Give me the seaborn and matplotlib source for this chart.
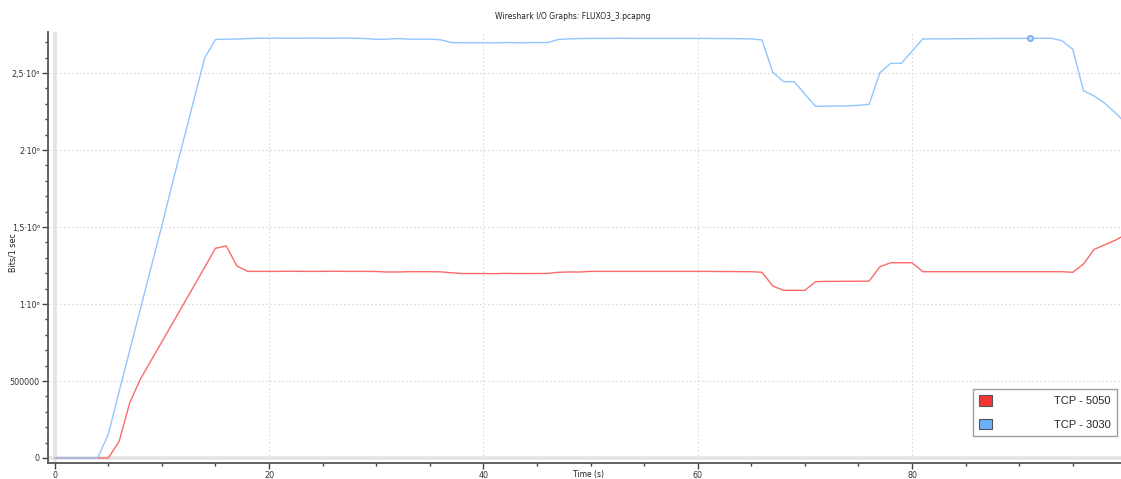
import numpy as np
import pandas as pd
import matplotlib
matplotlib.use("Agg")
import matplotlib.pyplot as plt
from matplotlib.patches import Patch
from matplotlib.ticker import MultipleLocator, FixedLocator, FixedFormatter
import seaborn as sns

# Data (1 s intervals)
seconds = list(range(0, 101))

tcp_3030 = [
    0, 0, 0, 0, 0, 154000, 430000, 700000, 970000, 1240000,
    1510000, 1790000, 2060000, 2330000, 2600000, 2718000, 2720000, 2721000, 2724000, 2726000,
    2726000, 2727000, 2726000, 2726000, 2727000, 2726000, 2726000, 2727000, 2726000, 2724000,
    2719000, 2720000, 2724000, 2720000, 2720000, 2720000, 2716000, 2698000, 2697000, 2697000,
    2697000, 2696000, 2698000, 2697000, 2697000, 2698000, 2698000, 2718000, 2722000, 2724000,
    2725000, 2725000, 2725000, 2726000, 2725000, 2725000, 2725000, 2725000, 2725000, 2725000,
    2725000, 2725000, 2724000, 2724000, 2723000, 2722000, 2715000, 2505000, 2444000, 2444000,
    2364000, 2284000, 2285000, 2286000, 2287000, 2290000, 2297000, 2502000, 2563000, 2563000,
    2642000, 2721000, 2722000, 2722000, 2723000, 2723000, 2724000, 2724000, 2725000, 2725000,
    2725000, 2725000, 2726000, 2726000, 2710000, 2654000, 2385000, 2351000, 2303000, 2240000,
    2170000,
]

tcp_5050 = [
    0, 0, 0, 0, 0, 0, 106000, 359000, 513000, 634000,
    755000, 876000, 997000, 1118000, 1240000, 1362000, 1377000, 1247000, 1212000, 1212000,
    1212000, 1212000, 1213000, 1212000, 1212000, 1212000, 1213000, 1212000, 1212000, 1212000,
    1211000, 1208000, 1208000, 1210000, 1210000, 1210000, 1209000, 1203000, 1198000, 1198000,
    1198000, 1197000, 1199000, 1198000, 1198000, 1198000, 1199000, 1206000, 1208000, 1208000,
    1212000, 1212000, 1212000, 1212000, 1212000, 1212000, 1212000, 1212000, 1212000, 1212000,
    1212000, 1212000, 1211000, 1211000, 1210000, 1210000, 1206000, 1117000, 1089000, 1089000,
    1089000, 1145000, 1147000, 1147000, 1148000, 1148000, 1149000, 1242000, 1268000, 1268000,
    1268000, 1210000, 1210000, 1210000, 1210000, 1210000, 1210000, 1210000, 1210000, 1210000,
    1210000, 1210000, 1210000, 1210000, 1210000, 1206000, 1260000, 1355000, 1385000, 1415000,
    1455000,
]

series_names = ["TCP - 5050", "TCP - 3030"]
line_colors = ["#fb6a6a", "#92c6ff"]
legend_colors = ["#f33535", "#6ab1f7"]
marked_second = 91

y_ticks = [0, 500000, 1000000, 1500000, 2000000, 2500000]
y_tick_labels = ["0", "500000", "1·10⁶", "1,5·10⁶", "2·10⁶", "2,5·10⁶"]

df = pd.DataFrame({
    "Time (s)": seconds * 2,
    "Bits/1 sec": tcp_5050 + tcp_3030,
    "series": [series_names[0]] * len(seconds) + [series_names[1]] * len(seconds),
})

sns.set_style("white")
plt.rcParams["font.family"] = ["DejaVu Sans"]

fig = plt.figure(figsize=(11.21, 4.79), dpi=100)
ax = fig.add_axes([0.0431, 0.0334, 0.9569, 0.8996])

# zero lines (light grey bands like the Qt plot)
ax.axhline(0, color="#e4e4e4", lw=2.6, zorder=1)
ax.axvline(0, color="#e4e4e4", lw=2.6, zorder=1)

sns.lineplot(
    data=df, x="Time (s)", y="Bits/1 sec", hue="series",
    palette=dict(zip(series_names, line_colors)),
    linewidth=1.0, legend=False, ax=ax, zorder=3,
)
ax.plot(seconds[marked_second], tcp_3030[marked_second], "o", ms=4,
        mfc="#b9dbff", mec="#6aa9ec", mew=1.0, zorder=4)

ax.set_xlim(-0.6, 99.5)
ax.set_ylim(-32500, 2766000)

ax.xaxis.set_major_locator(MultipleLocator(20))
ax.xaxis.set_minor_locator(MultipleLocator(5))
ax.yaxis.set_major_locator(FixedLocator(y_ticks))
ax.yaxis.set_major_formatter(FixedFormatter(y_tick_labels))
ax.yaxis.set_minor_locator(MultipleLocator(100000))

ax.tick_params(axis="both", which="major", length=4, width=1, color="#444444",
               labelsize=5.8, labelcolor="#333333", direction="out", pad=2)
ax.tick_params(axis="both", which="minor", length=2, width=1, color="#444444",
               direction="out")
ax.tick_params(axis="x", which="both", bottom=True)
ax.tick_params(axis="y", which="both", left=True)

ax.grid(True, which="major", color="#d9d9d9", linestyle=(0, (1.5, 2)), linewidth=0.8)
ax.set_axisbelow(True)

for side in ["top", "right"]:
    ax.spines[side].set_visible(False)
for side in ["left", "bottom"]:
    ax.spines[side].set_color("#555555")
    ax.spines[side].set_linewidth(1.3)

ax.set_xlabel("")
ax.set_ylabel("")
fig.text(0.511, 0.965, "Wireshark I/O Graphs: FLUXO3_3.pcapng", ha="center", va="center",
         fontsize=5.5, color="#222222")
fig.text(0.012, 0.472, "Bits/1 sec", rotation=90, ha="center", va="center",
         fontsize=5.8, color="#222222")
fig.text(0.525, 0.001, "Time (s)", ha="center", va="bottom", fontsize=5.5, color="#222222")

handles = [Patch(facecolor=c, edgecolor="#555555", linewidth=0.8) for c in legend_colors]
leg = ax.legend(
    handles, series_names, loc="lower right", bbox_to_anchor=(0.996, 0.063),
    borderaxespad=0, frameon=True, fancybox=False, framealpha=1,
    edgecolor="#a0a0a0", handlelength=1.1, handleheight=1.1, handletextpad=5.6,
    labelspacing=1.1, borderpad=0.55,
    prop={"family": ["Liberation Sans", "DejaVu Sans"], "size": 8},
)
leg.get_frame().set_linewidth(1.0)

fig.savefig("out.png", dpi=100)
